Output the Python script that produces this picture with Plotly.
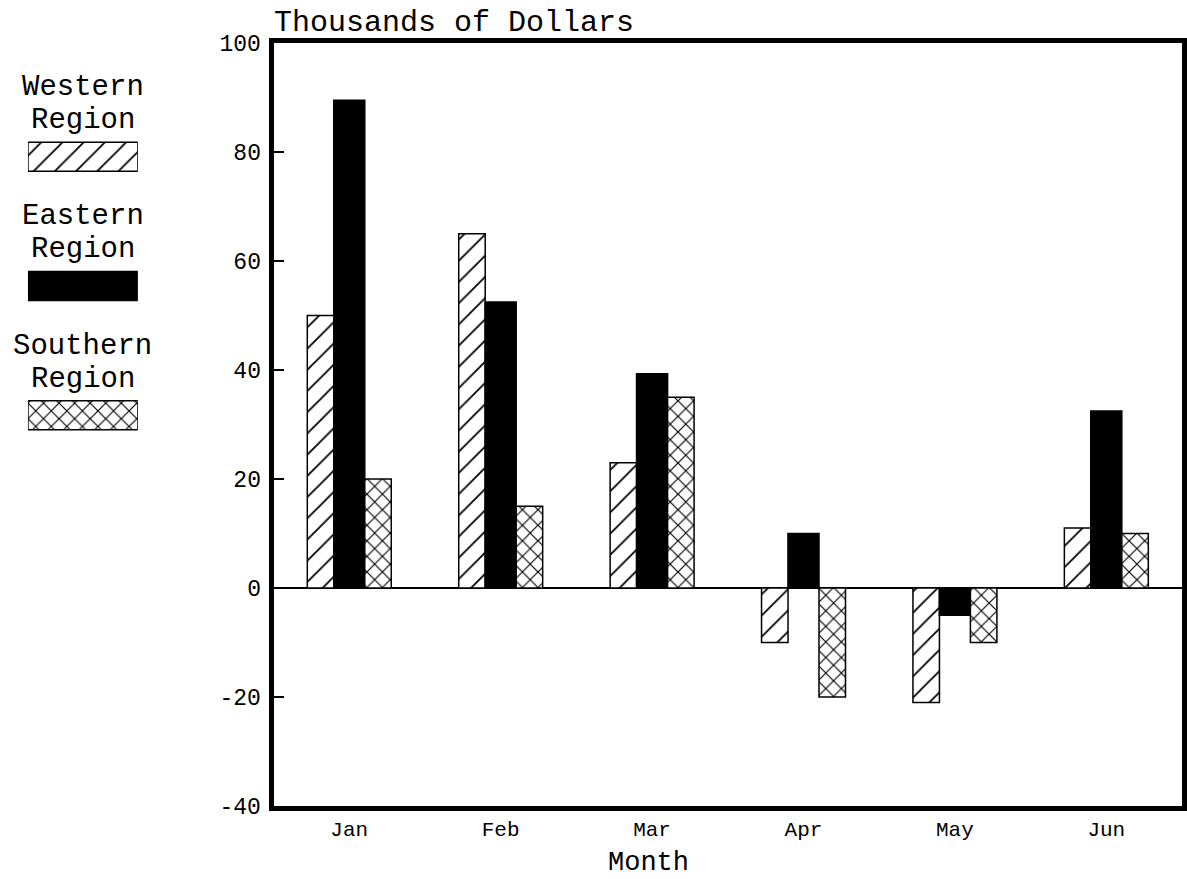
import plotly.graph_objects as go

# Monthly results by region, in thousands of dollars
months = ["Jan", "Feb", "Mar", "Apr", "May", "Jun"]
western = [50, 65, 23, -10, -21, 11]
eastern = [89.5, 52.5, 39.3, 10, -5, 32.5]
southern = [20, 15, 35, -20, -10, 10]

regions = ["Western Region", "Eastern Region", "Southern Region"]
y_ticks = [100, 80, 60, 40, 20, 0, -20, -40]

FONT = "Liberation Mono"
W, H = 1187, 879
M_TOP, M_BOT = 43, 73
PLOT_H = H - M_TOP - M_BOT


def px_x(p):
    return p / W


def px_y(p):
    return (H - M_BOT - p) / PLOT_H


styles = {
    "Western Region": dict(color="white",
                           pattern=dict(shape="/", fgcolor="black", bgcolor="white",
                                        size=15, solidity=0.12, fillmode="replace")),
    "Eastern Region": dict(color="black"),
    "Southern Region": dict(color="white",
                            pattern=dict(shape="x", fgcolor="black", bgcolor="white",
                                         size=11, solidity=0.2, fillmode="replace")),
}
offsets = {"Western Region": (-0.277, 0.175),
           "Eastern Region": (-0.1025, 0.205),
           "Southern Region": (0.1025, 0.175)}
series = {"Western Region": western, "Eastern Region": eastern, "Southern Region": southern}

fig = go.Figure()

for name in regions:
    off, wid = offsets[name]
    mk = dict(styles[name])
    mk["line"] = dict(color="black", width=1.5)
    fig.add_trace(go.Bar(
        x=months, y=series[name], name=name,
        offset=off, width=wid, marker=mk,
        xaxis="x", yaxis="y", showlegend=False,
    ))

# Legend swatches drawn as bars on their own small axes
for name in regions:
    mk = dict(styles[name])
    mk["line"] = dict(color="black", width=1.5)
    fig.add_trace(go.Bar(
        x=[1], y=[name], orientation="h", width=0.224, marker=mk,
        xaxis="x2", yaxis="y2", showlegend=False, hoverinfo="skip",
    ))

annotations = []
for name in regions:
    first, second = name.split(" ")
    for text, shift in ((first, 69), (second, 36)):
        annotations.append(dict(
            x=0.5, xref="x2", y=name, yref="y2", yshift=shift,
            text=text, showarrow=False, xanchor="center", yanchor="middle",
            font=dict(family=FONT, size=29, color="black"),
        ))

annotations.append(dict(
    x=px_x(272), xref="paper", y=px_y(23), yref="paper",
    text="Thousands of Dollars", showarrow=False, xanchor="left", yanchor="middle",
    font=dict(family=FONT, size=30, color="black"),
))
annotations.append(dict(
    x=px_x(650), xref="paper", y=px_y(863), yref="paper",
    text="Month", showarrow=False, xanchor="center", yanchor="middle",
    font=dict(family=FONT, size=27, color="black"),
))

fig.update_layout(
    width=W, height=H,
    margin=dict(l=0, r=0, t=M_TOP, b=M_BOT, pad=0),
    plot_bgcolor="white", paper_bgcolor="white",
    barmode="overlay", showlegend=False,
    font=dict(family=FONT, color="black"),
    annotations=annotations,
    xaxis=dict(
        domain=[px_x(274), px_x(1184)], range=[-0.5, 5.5],
        type="category", categoryorder="array", categoryarray=months,
        showline=True, linewidth=5, linecolor="black", mirror=True,
        ticks="", showgrid=False, zeroline=False,
        tickfont=dict(family=FONT, size=21, color="black"),
        ticklabelstandoff=0,
    ),
    yaxis=dict(
        domain=[0, 1], range=[-40, 100],
        tickvals=y_ticks, ticktext=[str(v) for v in y_ticks],
        showline=True, linewidth=5, linecolor="black", mirror=True,
        ticks="inside", ticklen=10, tickwidth=1.5, tickcolor="black",
        showgrid=False, zeroline=True, zerolinewidth=1.5, zerolinecolor="black",
        tickfont=dict(family=FONT, size=23, color="black"),
        ticklabelstandoff=3,
    ),
    xaxis2=dict(
        domain=[px_x(28), px_x(138)], range=[0, 1], anchor="y2",
        visible=False, fixedrange=True,
    ),
    yaxis2=dict(
        domain=[px_y(480), px_y(92)], range=[2.5, -0.5], anchor="x2",
        type="category", categoryorder="array", categoryarray=regions,
        visible=False, fixedrange=True,
    ),
)

fig.write_html("out.html")
